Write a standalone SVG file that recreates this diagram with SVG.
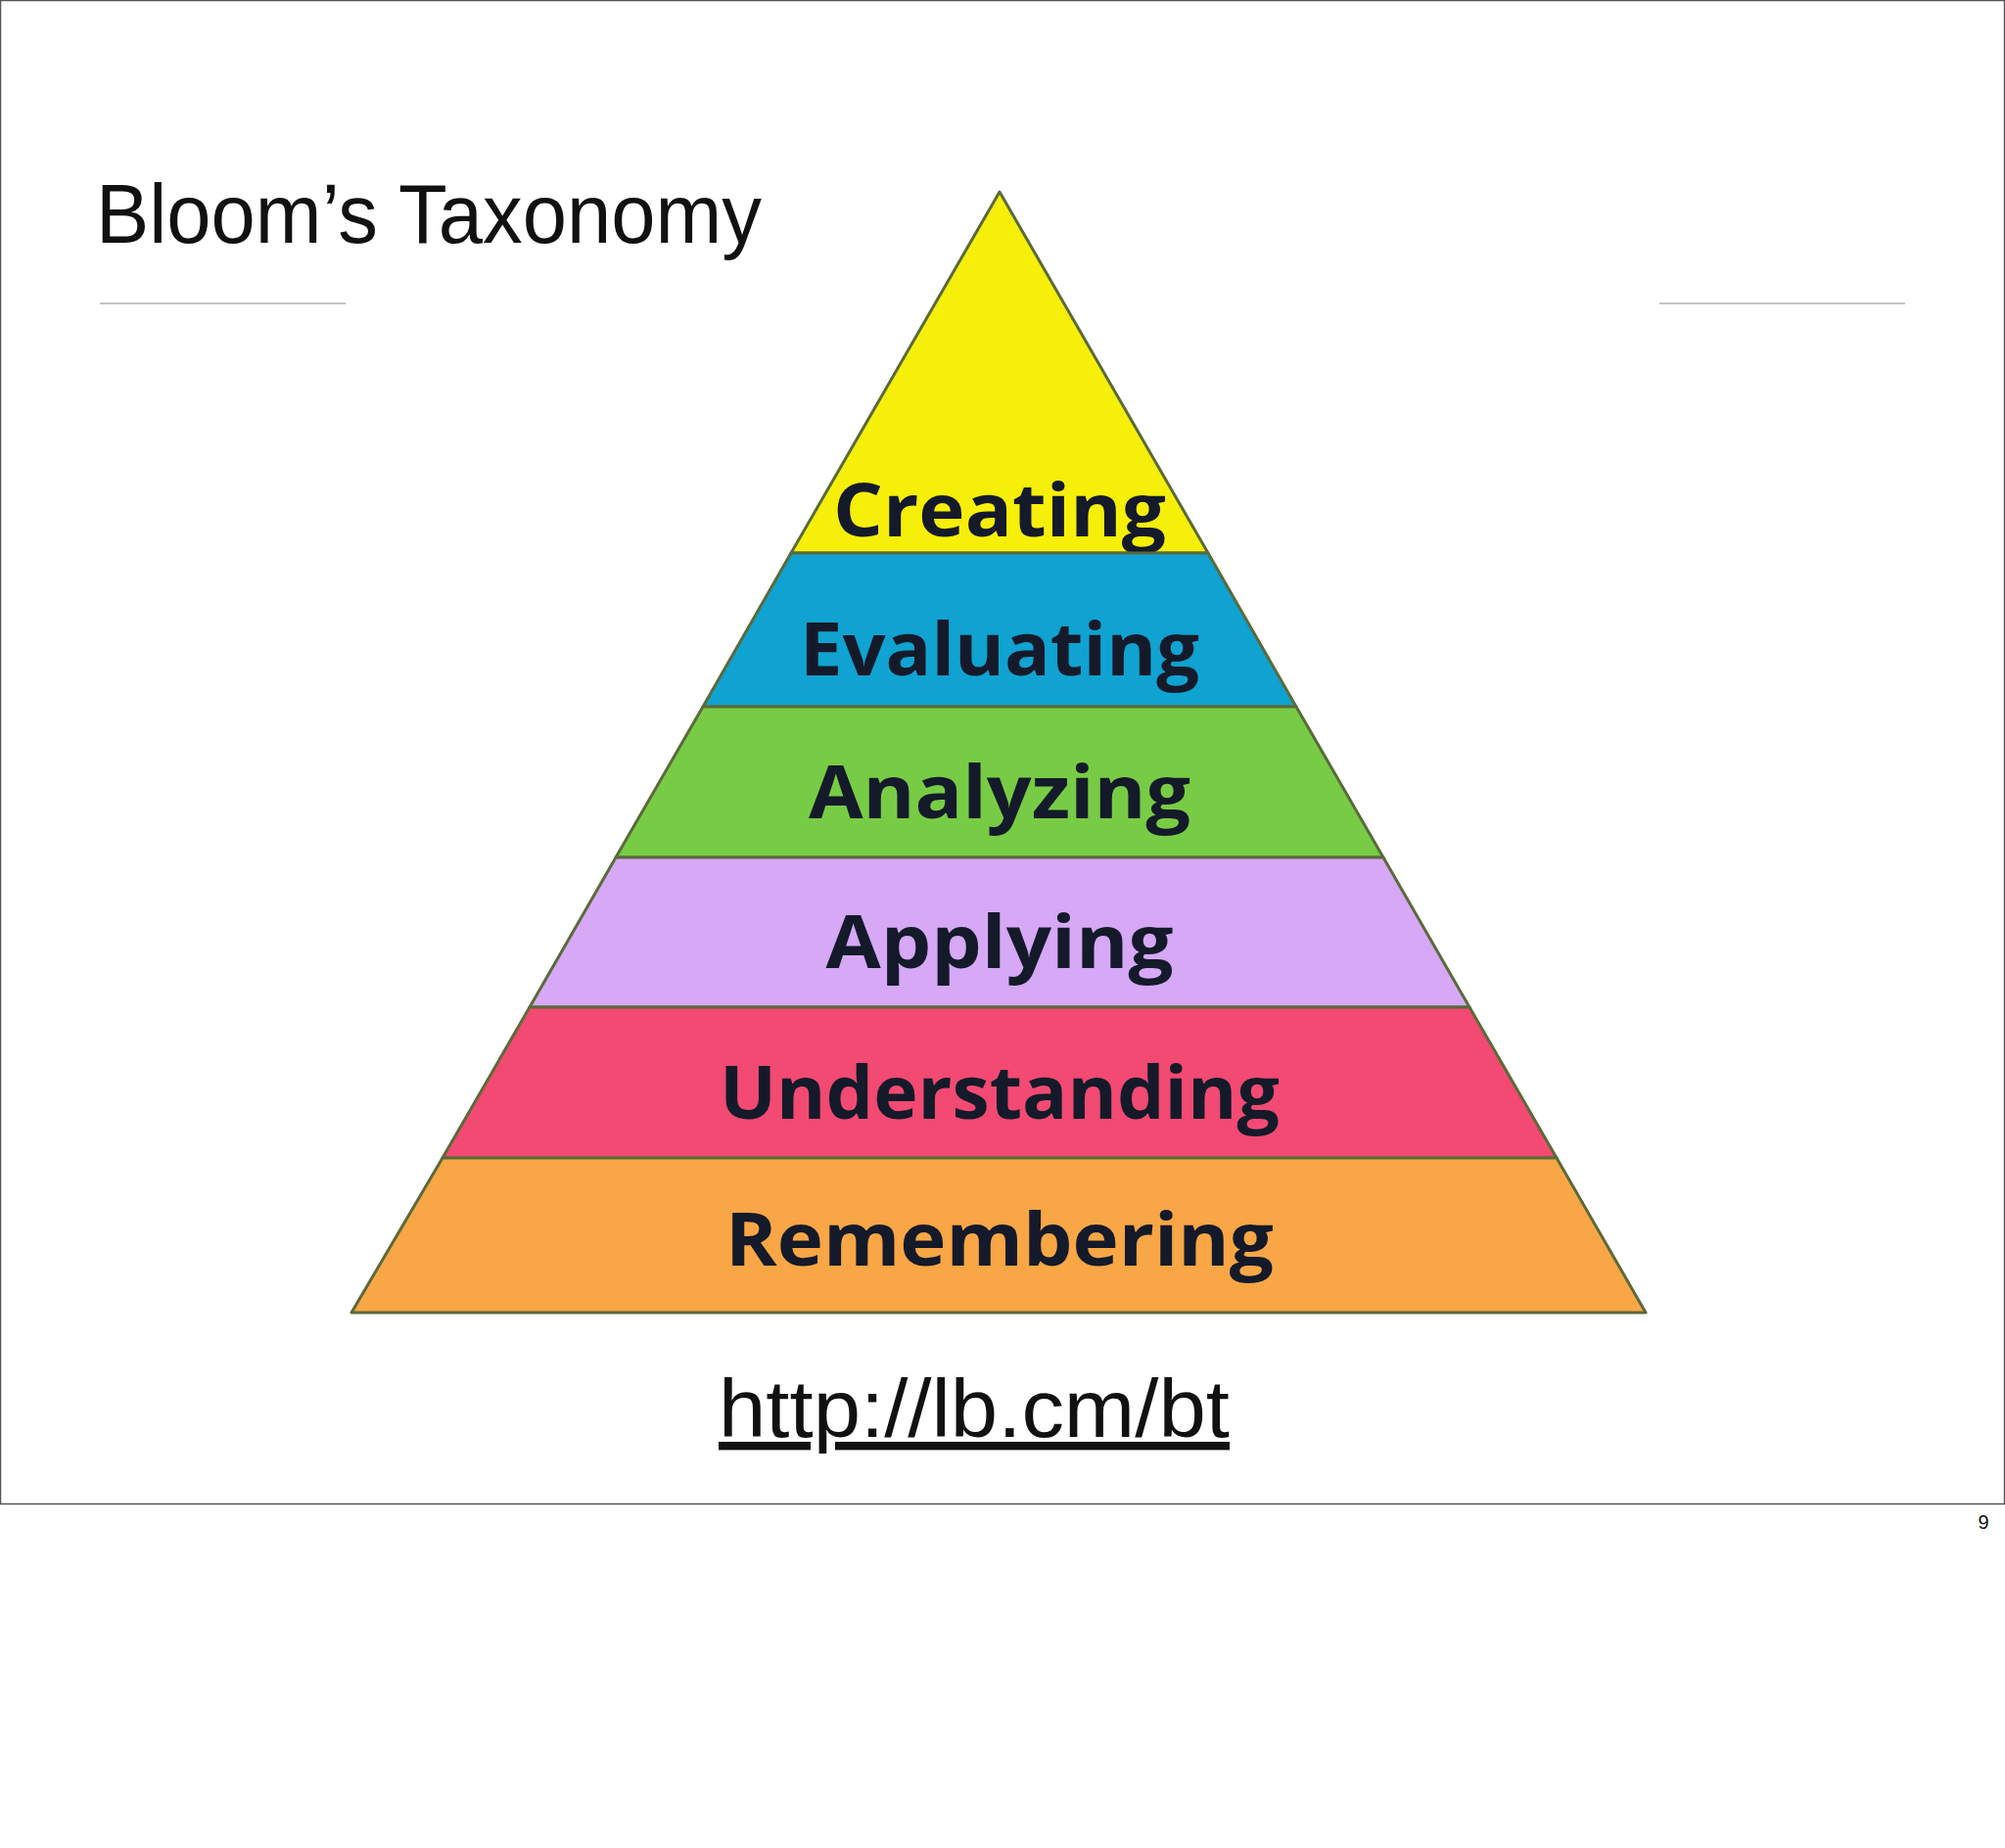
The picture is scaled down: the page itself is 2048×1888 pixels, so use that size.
<svg xmlns="http://www.w3.org/2000/svg" width="2048" height="1888" viewBox="0 0 2048 1888">
<style>
.band{stroke:#5a6a3a;stroke-width:3;stroke-linejoin:round}
.lbl{font-family:"Open Sans","DejaVu Sans",sans-serif;font-weight:700;font-size:76px;text-anchor:middle;fill:#141a2a}
.rule{stroke:#b0b0b0;stroke-width:1.5}
</style>
<rect x="0" y="0" width="2048" height="1888" fill="#fff"/>
<rect x="0.5" y="0.5" width="2047" height="1536" fill="none" stroke="#555" stroke-width="1.5"/>
<text x="98" y="248" font-family="Liberation Sans, Arial, sans-serif" font-size="86" fill="#111" textLength="680" lengthAdjust="spacingAndGlyphs">Bloom’s Taxonomy</text>
<line class="rule" x1="102" y1="310" x2="353" y2="310"/>
<line class="rule" x1="1695" y1="310" x2="1946" y2="310"/>
<g id="creating"><polygon class="band" fill="#f6ef0a" points="1021,196 1234,565 808,565"/><text class="lbl" x="1021" y="548" textLength="340" lengthAdjust="spacingAndGlyphs">Creating</text></g>
<g id="evaluating"><polygon class="band" fill="#10a2d0" points="808,565 1234,565 1324,722 718,722"/><text class="lbl" x="1021" y="690" textLength="408" lengthAdjust="spacingAndGlyphs">Evaluating</text></g>
<g id="analyzing"><polygon class="band" fill="#78cc45" points="718,722 1324,722 1413,876 629,876"/><text class="lbl" x="1021" y="836" textLength="390" lengthAdjust="spacingAndGlyphs">Analyzing</text></g>
<g id="applying"><polygon class="band" fill="#d6a8f6" points="629,876 1413,876 1501,1029 541,1029"/><text class="lbl" x="1021" y="989" textLength="355" lengthAdjust="spacingAndGlyphs">Applying</text></g>
<g id="understanding"><polygon class="band" fill="#f24a72" points="541,1029 1501,1029 1590,1183 452,1183"/><text class="lbl" x="1021" y="1143" textLength="572" lengthAdjust="spacingAndGlyphs" fill="#2a1018">Understanding</text></g>
<g id="remembering"><polygon class="band" fill="#f8a646" points="452,1183 1590,1183 1681,1341 359,1341"/><text class="lbl" x="1021" y="1293" textLength="560" lengthAdjust="spacingAndGlyphs" fill="#2a1a10">Remembering</text></g>
<g id="connectors"></g>
<text x="734" y="1468" font-family="Liberation Sans, Arial, sans-serif" font-size="84" fill="#111" text-decoration="underline" textLength="522" lengthAdjust="spacingAndGlyphs">http://lb.cm/bt</text>
<text x="2026" y="1562" font-family="Liberation Sans, Arial, sans-serif" font-size="20" fill="#111" text-anchor="middle">9</text>
</svg>
